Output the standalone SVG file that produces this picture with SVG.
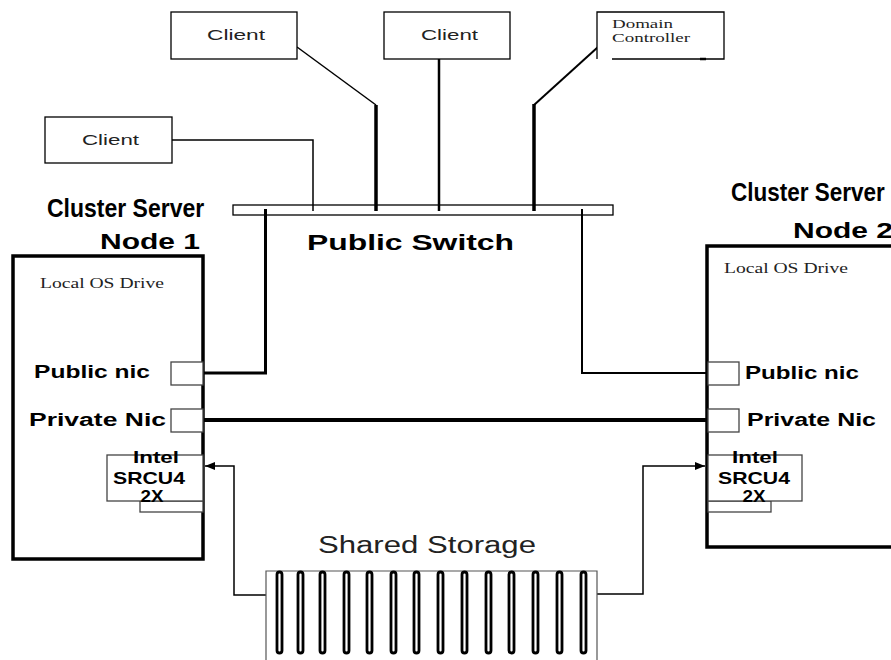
<svg xmlns="http://www.w3.org/2000/svg" width="891" height="660" viewBox="0 0 891 660">
  <style>
    .box { fill: #fff; stroke: #000; stroke-width: 1.3; }
    .node { fill: #fff; stroke: #000; stroke-width: 3.5; }
    .port { fill: #fff; stroke: #444; stroke-width: 1.3; }
    .wire { fill: none; stroke: #000; stroke-linecap: butt; }
    .client { font-family: "Liberation Sans", Arial, sans-serif; fill: #222; }
    .serif { font-family: "Liberation Serif", "Times New Roman", serif; fill: #222; }
    .title { font-family: "Liberation Sans", Arial, sans-serif; font-weight: bold; fill: #000; }
    .slot { fill: #fff; stroke: #000; stroke-width: 2.8; }
  </style>
  <defs>
    <marker id="arrow" viewBox="0 0 10 8" refX="10" refY="4" markerWidth="10" markerHeight="8" markerUnits="userSpaceOnUse" orient="auto">
      <path d="M0,0 L10,4 L0,8 z" fill="#000"/>
    </marker>
  </defs>
  <rect width="891" height="660" fill="#fff"/>

  <!-- connectors -->
  <g id="connectors">
    <!-- clients to switch -->
    <path class="wire" d="M172,140 H313 V211" stroke-width="1.5"/>
    <path class="wire" d="M297,47 L376,105" stroke-width="1.5"/>
    <path class="wire" d="M376,105 V211" stroke-width="3.5"/>
    <path class="wire" d="M439,59 V211" stroke-width="2.5"/>
    <path class="wire" d="M598,47 L534,105" stroke-width="2"/>
    <path class="wire" d="M534,104 V211" stroke-width="3.5"/>
    <!-- switch to public nics -->
    <path class="wire" d="M265.5,209 V373 H203" stroke-width="3"/>
    <path class="wire" d="M582,209 V373 H708" stroke-width="2"/>
    <!-- private heartbeat -->
    <path class="wire" d="M203,420 H708" stroke-width="4"/>
    <!-- shared storage links -->
    <path class="wire" d="M266,595 H234 V466 H205" stroke-width="1.5" marker-end="url(#arrow)"/>
    <path class="wire" d="M597,594 H643 V466 H705" stroke-width="1.5" marker-end="url(#arrow)"/>
  </g>

  <!-- clients -->
  <g id="client-1">
    <rect class="box" x="171" y="12" width="126" height="47"/>
    <text class="client" font-size="15.5" x="207" y="40" textLength="58" lengthAdjust="spacingAndGlyphs">Client</text>
  </g>
  <g id="client-2">
    <rect class="box" x="384" y="12" width="126" height="47"/>
    <text class="client" font-size="15.5" x="421" y="40" textLength="57" lengthAdjust="spacingAndGlyphs">Client</text>
  </g>
  <g id="client-3">
    <rect class="box" x="45" y="117" width="127" height="46"/>
    <text class="client" font-size="15.5" x="82" y="145" textLength="57" lengthAdjust="spacingAndGlyphs">Client</text>
  </g>
  <g id="domain-controller">
    <path class="box" d="M612,59 H724 V12 H597 V59" fill="#fff"/>
    <path d="M700,59 H706" stroke="#000" stroke-width="2.5"/>
    <text class="serif" font-size="13" x="612" y="28" textLength="61" lengthAdjust="spacingAndGlyphs">Domain</text>
    <text class="serif" font-size="13" x="612" y="42" textLength="78" lengthAdjust="spacingAndGlyphs">Controller</text>
  </g>

  <!-- public switch -->
  <g id="public-switch">
    <rect x="233" y="205" width="380" height="10" fill="none" stroke="#000" stroke-width="1.3"/>
    <text class="title" font-size="22" x="307" y="250" textLength="207" lengthAdjust="spacingAndGlyphs">Public Switch</text>
  </g>

  <!-- cluster node 1 -->
  <g id="node-1">
    <text class="title" font-size="23" transform="translate(47,217) scale(1,1.12)">Cluster Server</text>
    <text class="title" font-size="22" x="100" y="249" textLength="100" lengthAdjust="spacingAndGlyphs">Node 1</text>
    <rect class="node" x="13" y="256" width="190" height="303"/>
    <text class="serif" font-size="14" x="40" y="288" textLength="124" lengthAdjust="spacingAndGlyphs">Local OS Drive</text>
    <rect class="port" x="171" y="362" width="32" height="23"/>
    <text class="title" font-size="18" x="34" y="378" textLength="116" lengthAdjust="spacingAndGlyphs">Public nic</text>
    <rect class="port" x="171" y="409" width="32" height="23"/>
    <text class="title" font-size="18" x="29" y="426" textLength="137" lengthAdjust="spacingAndGlyphs">Private Nic</text>
    <rect class="port" x="140" y="501" width="63" height="11"/>
    <rect class="port" x="107" y="455" width="96" height="46"/>
    <g class="title" font-size="17" text-anchor="middle">
      <text x="156" y="463" textLength="46" lengthAdjust="spacingAndGlyphs">Intel</text>
      <text x="149" y="484" textLength="72" lengthAdjust="spacingAndGlyphs">SRCU4</text>
      <text x="152" y="502" textLength="23" lengthAdjust="spacingAndGlyphs">2X</text>
    </g>
  </g>

  <!-- cluster node 2 -->
  <g id="node-2">
    <text class="title" font-size="22.5" transform="translate(731,201) scale(1,1.14)">Cluster Server</text>
    <text class="title" font-size="22" x="793" y="238" textLength="100" lengthAdjust="spacingAndGlyphs">Node 2</text>
    <rect class="node" x="707" y="246" width="200" height="301"/>
    <text class="serif" font-size="14" x="724" y="273" textLength="124" lengthAdjust="spacingAndGlyphs">Local OS Drive</text>
    <rect class="port" x="708" y="362" width="31" height="23"/>
    <text class="title" font-size="18" x="745" y="379" textLength="114" lengthAdjust="spacingAndGlyphs">Public nic</text>
    <rect class="port" x="708" y="409" width="31" height="23"/>
    <text class="title" font-size="18" x="747" y="426" textLength="129" lengthAdjust="spacingAndGlyphs">Private Nic</text>
    <rect class="port" x="708" y="501" width="63" height="11"/>
    <rect class="port" x="708" y="455" width="94" height="46"/>
    <g class="title" font-size="17" text-anchor="middle">
      <text x="755" y="463" textLength="46" lengthAdjust="spacingAndGlyphs">Intel</text>
      <text x="754" y="484" textLength="72" lengthAdjust="spacingAndGlyphs">SRCU4</text>
      <text x="754" y="502" textLength="23" lengthAdjust="spacingAndGlyphs">2X</text>
    </g>
  </g>

  <!-- shared storage array -->
  <g id="shared-storage">
    <text class="client" font-size="23" x="318" y="553" textLength="218" lengthAdjust="spacingAndGlyphs">Shared Storage</text>
    <path d="M266,662 V571 H597 V662" fill="none" stroke="#555" stroke-width="1.2"/>
    <g>
      <rect class="slot" x="277" y="572" width="5" height="81" rx="2.5"/>
      <rect class="slot" x="298" y="572" width="5" height="81" rx="2.5"/>
      <rect class="slot" x="320" y="572" width="5" height="81" rx="2.5"/>
      <rect class="slot" x="344" y="572" width="5" height="81" rx="2.5"/>
      <rect class="slot" x="367" y="572" width="5" height="81" rx="2.5"/>
      <rect class="slot" x="391" y="572" width="5" height="81" rx="2.5"/>
      <rect class="slot" x="414" y="572" width="5" height="81" rx="2.5"/>
      <rect class="slot" x="438" y="572" width="5" height="81" rx="2.5"/>
      <rect class="slot" x="462" y="572" width="5" height="81" rx="2.5"/>
      <rect class="slot" x="486" y="572" width="5" height="81" rx="2.5"/>
      <rect class="slot" x="509" y="572" width="5" height="81" rx="2.5"/>
      <rect class="slot" x="533" y="572" width="5" height="81" rx="2.5"/>
      <rect class="slot" x="557" y="572" width="5" height="81" rx="2.5"/>
      <rect class="slot" x="581" y="572" width="5" height="81" rx="2.5"/>
    </g>
  </g>
</svg>
